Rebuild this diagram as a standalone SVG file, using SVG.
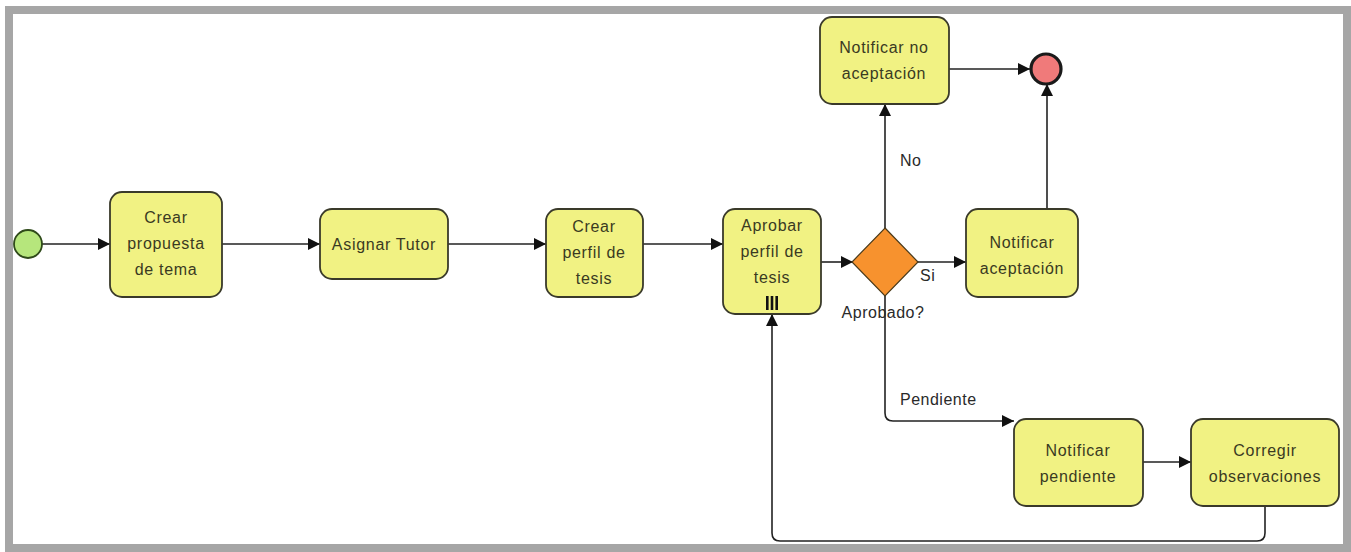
<svg xmlns="http://www.w3.org/2000/svg" width="1351" height="552" viewBox="0 0 1351 552">
  <defs>
    <marker id="arrow" viewBox="0 0 12 12" refX="12" refY="6" markerWidth="12" markerHeight="12" markerUnits="userSpaceOnUse" orient="auto">
      <path d="M0,0 L12,6 L0,12 Z" fill="#111"/>
    </marker>
    <style>
      .task { fill: #f1f283; stroke: #3a3a2a; stroke-width: 1.8; }
      .label { font-family: "Liberation Sans", Arial, sans-serif; font-size: 16px; letter-spacing: 0.7px; fill: #3a3a22; text-anchor: middle; }
      .flow { fill: none; stroke: #222; stroke-width: 1.6; marker-end: url(#arrow); }
      .edge-label { font-family: "Liberation Sans", Arial, sans-serif; font-size: 16px; letter-spacing: 0.5px; fill: #2a2a2a; }
    </style>
  </defs>

  <rect x="0" y="0" width="1351" height="552" fill="#ffffff"/>
  <!-- outer frame -->
  <rect x="9" y="10" width="1338" height="538" fill="none" stroke="#a6a6a6" stroke-width="8"/>

  <g id="connectors">
    <line class="flow" x1="42" y1="244" x2="110" y2="244"/>
    <line class="flow" x1="222" y1="244" x2="320" y2="244"/>
    <line class="flow" x1="448" y1="244" x2="546" y2="244"/>
    <line class="flow" x1="643" y1="244" x2="723" y2="244"/>
    <line class="flow" x1="821" y1="262" x2="853" y2="262"/>
    <line class="flow" x1="917" y1="262" x2="966" y2="262"/>
    <line class="flow" x1="885" y1="228" x2="885" y2="104"/>
    <line class="flow" x1="949" y1="69" x2="1030" y2="69"/>
    <line class="flow" x1="1047" y1="209" x2="1047" y2="84"/>
    <path class="flow" d="M885,296 L885,413 Q885,421 893,421 L1014,421"/>
    <line class="flow" x1="1143" y1="462" x2="1191" y2="462"/>
    <path class="flow" d="M1265,506 L1265,533 Q1265,541 1257,541 L780,541 Q772,541 772,533 L772,314"/>
    <text class="edge-label" x="900" y="166">No</text>
    <text class="edge-label" x="920" y="281">Si</text>
    <text class="edge-label" x="900" y="405">Pendiente</text>
  </g>

  <g id="start">
    <circle cx="28" cy="244" r="14" fill="#b6e67c" stroke="#2f4a1a" stroke-width="1.8"/>
  </g>

  <g id="crear-propuesta">
    <rect class="task" x="110" y="192" width="112" height="105" rx="12"/>
    <text class="label" x="166" y="223">Crear</text>
    <text class="label" x="166" y="249">propuesta</text>
    <text class="label" x="166" y="275">de tema</text>
  </g>

  <g id="asignar-tutor">
    <rect class="task" x="320" y="209" width="128" height="70" rx="12"/>
    <text class="label" x="384" y="250">Asignar Tutor</text>
  </g>

  <g id="crear-perfil">
    <rect class="task" x="546" y="209" width="97" height="88" rx="12"/>
    <text class="label" x="594" y="232">Crear</text>
    <text class="label" x="594" y="258">perfil de</text>
    <text class="label" x="594" y="284">tesis</text>
  </g>

  <g id="aprobar-perfil">
    <rect class="task" x="723" y="209" width="98" height="105" rx="12"/>
    <text class="label" x="772" y="231">Aprobar</text>
    <text class="label" x="772" y="257">perfil de</text>
    <text class="label" x="772" y="283">tesis</text>
    <g fill="#111">
      <rect x="766" y="296" width="2.6" height="14"/>
      <rect x="770.7" y="296" width="2.6" height="14"/>
      <rect x="775.4" y="296" width="2.6" height="14"/>
    </g>
  </g>

  <g id="gateway">
    <polygon points="885,228 918,262 885,296 852,262" fill="#f7922e" stroke="#4a3a1a" stroke-width="1.2"/>
    <text class="edge-label" x="883" y="318" text-anchor="middle">Aprobado?</text>
  </g>

  <g id="notificar-aceptacion">
    <rect class="task" x="966" y="209" width="112" height="88" rx="12"/>
    <text class="label" x="1022" y="248">Notificar</text>
    <text class="label" x="1022" y="274">aceptación</text>
  </g>

  <g id="notificar-no-aceptacion">
    <rect class="task" x="820" y="17" width="129" height="87" rx="12"/>
    <text class="label" x="884" y="53">Notificar no</text>
    <text class="label" x="884" y="79">aceptación</text>
  </g>

  <g id="end">
    <circle cx="1046" cy="69" r="15" fill="#f07a7a" stroke="#1a1a1a" stroke-width="3.2"/>
  </g>

  <g id="notificar-pendiente">
    <rect class="task" x="1014" y="419" width="129" height="87" rx="12"/>
    <text class="label" x="1078" y="456">Notificar</text>
    <text class="label" x="1078" y="482">pendiente</text>
  </g>

  <g id="corregir-observaciones">
    <rect class="task" x="1191" y="419" width="148" height="87" rx="12"/>
    <text class="label" x="1265" y="456">Corregir</text>
    <text class="label" x="1265" y="482">observaciones</text>
  </g>
</svg>
